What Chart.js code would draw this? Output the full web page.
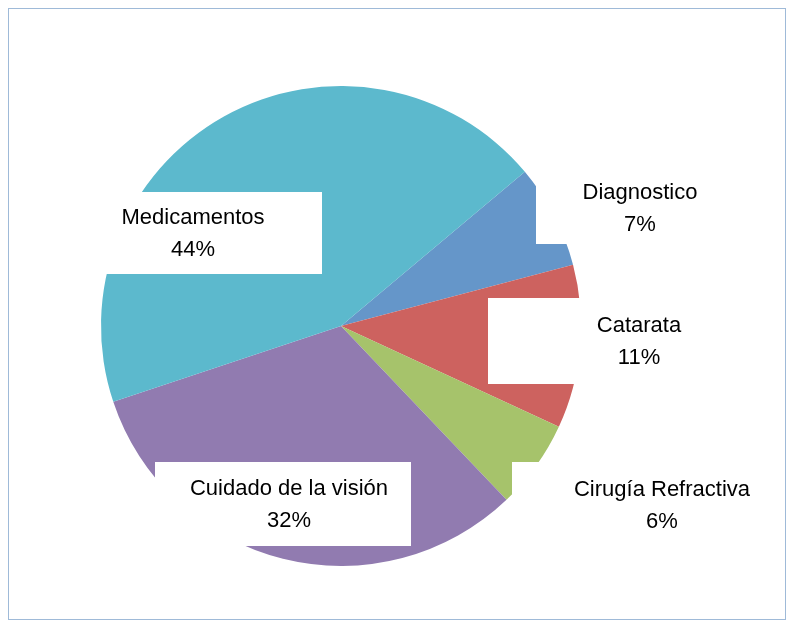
<!DOCTYPE html>
<html>
<head>
<meta charset="utf-8">
<script src="https://cdn.jsdelivr.net/npm/chart.js@4/dist/chart.umd.min.js"></script>
<style>
  body { margin: 0; background: #fff; }
  #wrap { position: absolute; left: 8px; top: 8px; width: 778px; height: 612px; border: 1.5px solid #9fbad8; box-sizing: border-box; }
  canvas { position: absolute; left: 0; top: 0; }
</style>
</head>
<body>
<div id="wrap"></div>
<canvas id="chart" width="796" height="631"></canvas>
<script>
const categories = ['Diagnostico', 'Catarata', 'Cirugía Refractiva', 'Cuidado de la visión', 'Medicamentos'];
const values = [7, 11, 6, 32, 44];
const colors = ['#6596c9', '#cd625f', '#a6c36b', '#917bb0', '#5cb9cd'];

// label box positions [boxLeft, boxTop, boxWidth, boxHeight, textCenterX]
const labelBoxes = [
  [536, 172, 200, 72, 640],
  [488, 298, 200, 86, 639],
  [512, 462, 260, 86, 662],
  [155, 462, 256, 84, 289],
  [100, 192, 222, 82, 193]
];

const labelPlugin = {
  id: 'boxLabels',
  afterDatasetsDraw(chart) {
    const ctx = chart.ctx;
    ctx.save();
    ctx.font = '22px "Liberation Sans", Arial, sans-serif';
    ctx.textAlign = 'center';
    ctx.textBaseline = 'middle';
    categories.forEach((c, i) => {
      const [x, y, w, h, tx] = labelBoxes[i];
      ctx.fillStyle = '#fff';
      ctx.fillRect(x, y, w, h);
      ctx.fillStyle = '#000';
      const my = y + h / 2;
      ctx.fillText(c, tx, my - 15);
      ctx.fillText(values[i] + '%', tx, my + 17);
    });
    ctx.restore();
  }
};

new Chart('chart', {
  type: 'pie',
  data: {
    labels: categories,
    datasets: [{ data: values, backgroundColor: colors, borderWidth: 0 }]
  },
  options: {
    responsive: false,
    animation: false,
    rotation: 50,
    layout: { padding: { left: 101, top: 86, right: 215, bottom: 65 } },
    plugins: { legend: { display: false }, tooltip: { enabled: false } }
  },
  plugins: [labelPlugin]
});
</script>
</body>
</html>
